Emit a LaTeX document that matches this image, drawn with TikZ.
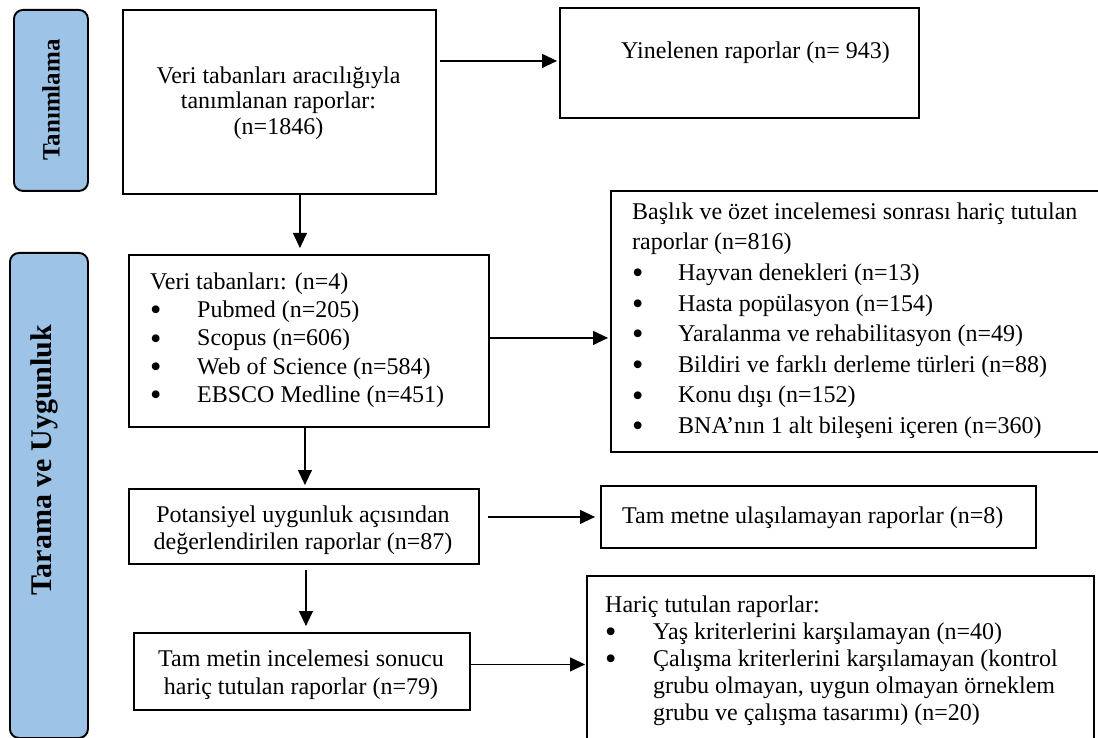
\documentclass[tikz,border=0pt]{standalone}
\usepackage{fontspec}
\setmainfont{Liberation Serif}
\usetikzlibrary{arrows.meta}
\definecolor{sideblue}{HTML}{9DC3E6}
\newcommand{\bulitem}[1]{\strut\makebox[#1][l]{\smash{\raisebox{-3.2pt}{\scalebox{1.35}{\textbullet}}}}}
\begin{document}
\begin{tikzpicture}[x=1pt,y=-1pt,
  box/.style={draw,line width=1.9pt,inner sep=0pt,anchor=north west},
  side/.style={draw,line width=1.9pt,fill=sideblue,rounded corners=9pt,inner sep=0pt,anchor=north west},
  arr/.style={line width=1.2pt,-{Triangle[length=15pt,width=14pt]}},
  txt/.style={inner sep=0pt,font=\fontsize{24}{25.5}\selectfont},
  sidetxt/.style={inner sep=0pt,rotate=90}
]
\clip (0,0) rectangle (1098,738);
\fill[white] (0,0) rectangle (1098,738);

% side phase boxes
\node[side,minimum width=74,minimum height=181] (tan) at (13,9) {};
\node[sidetxt,font=\bfseries\fontsize{25}{27}\selectfont] (tantxt) at (51,100) {Tanımlama};
\node[side,minimum width=78,minimum height=485] (tar) at (9,252) {};
\node[sidetxt,font=\bfseries\fontsize{30}{32}\selectfont] (tartxt) at (44,460) {Tarama ve Uygunluk};

% boxes
\node[box,minimum width=313,minimum height=184] (top) at (122,9) {};
\node[box,minimum width=359,minimum height=110] (yin) at (559,7) {};
\node[box,minimum width=360,minimum height=172] (veri) at (128,254) {};
\node[box,minimum width=500,minimum height=261] (bas) at (610,190) {};
\node[box,minimum width=350,minimum height=75] (pot) at (128,488) {};
\node[box,minimum width=435,minimum height=62] (tmn) at (600,485) {};
\node[box,minimum width=336,minimum height=77] (tm) at (133,632) {};
\node[box,minimum width=507,minimum height=190] (har) at (586,575) {};

% texts
\node[txt,align=center,anchor=north] (toptxt) at (278.5,65.2)
  {\strut Veri tabanları aracılığıyla\\\strut tanımlanan raporlar:\\\strut (n=1846)};
\node[txt,anchor=base west] (yintxt) at (621,59) {Yinelenen raporlar (n= 943)};
\node[txt,font=\fontsize{24}{28.3}\selectfont,align=left,anchor=north west] (veritxt) at (150,269.2)
  {\strut Veri tabanları: (n=4)\\
   \bulitem{47pt}Pubmed (n=205)\\
   \bulitem{47pt}Scopus (n=606)\\
   \bulitem{47pt}Web of Science (n=584)\\
   \bulitem{47pt}EBSCO Medline (n=451)};
\node[txt,font=\fontsize{24}{30.6}\selectfont,align=left,anchor=north west] (bastxt) at (632,197.6)
  {\strut Başlık ve özet incelemesi sonrası hariç tutulan\\
   \strut raporlar (n=816)\\
   \bulitem{46pt}Hayvan denekleri (n=13)\\
   \bulitem{46pt}Hasta popülasyon (n=154)\\
   \bulitem{46pt}Yaralanma ve rehabilitasyon (n=49)\\
   \bulitem{46pt}Bildiri ve farklı derleme türleri (n=88)\\
   \bulitem{46pt}Konu dışı (n=152)\\
   \bulitem{46pt}BNA’nın 1 alt bileşeni içeren (n=360)};
\node[txt,font=\fontsize{24}{27}\selectfont,align=center,anchor=north] (pottxt) at (303,503.1)
  {\strut Potansiyel uygunluk açısından\\\strut değerlendirilen raporlar (n=87)};
\node[txt,anchor=base west] (tmntxt) at (622,523) {Tam metne ulaşılamayan raporlar (n=8)};
\node[txt,font=\fontsize{24}{28}\selectfont,align=center,anchor=north] (tmtxt) at (301,646.4)
  {\strut Tam metin incelemesi sonucu\\\strut hariç tutulan raporlar (n=79)};
\node[txt,font=\fontsize{24}{27}\selectfont,align=left,anchor=north west] (hartxt) at (605,593.1)
  {\strut Hariç tutulan raporlar:\\
   \bulitem{48pt}Yaş kriterlerini karşılamayan (n=40)\\
   \bulitem{48pt}Çalışma kriterlerini karşılamayan (kontrol\\
   \strut\hspace*{48pt}grubu olmayan, uygun olmayan örneklem\\
   \strut\hspace*{48pt}grubu ve çalışma tasarımı) (n=20)};

% connectors
\draw[arr] ([xshift=3pt,yshift=2pt]top.east |- yin.west) -- ([xshift=-2pt,yshift=2pt]yin.west);
\draw[arr] ([xshift=20.5pt]top.south) -- ([xshift=20.5pt,yshift=6pt]top.south |- veri.north);
\draw[arr] ([yshift=3pt]veri.east) -- ([xshift=-2pt,yshift=3pt]veri.east -| bas.west);
\draw[arr] ([xshift=-4pt]veri.south) -- ([xshift=-4pt,yshift=3pt]veri.south |- pot.north);
\draw[arr] ([xshift=8pt]pot.east |- tmn.west) -- ([xshift=-5pt]tmn.west);
\draw[arr] ([xshift=2pt,yshift=-5pt]pot.south) -- ([xshift=2pt,yshift=6pt]pot.south |- tm.north);
\draw[arr] ([yshift=7pt]tm.east) -- ([xshift=-1pt,yshift=7pt]tm.east -| har.west);
\end{tikzpicture}
\end{document}
